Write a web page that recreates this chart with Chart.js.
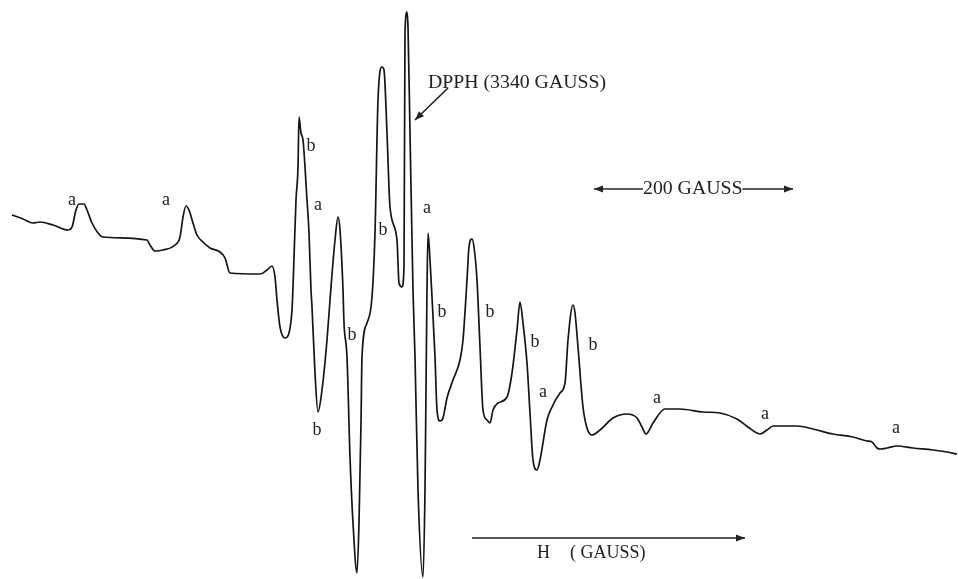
<!DOCTYPE html>
<html>
<head>
<meta charset="utf-8">
<script src="https://cdn.jsdelivr.net/npm/chart.js@4/dist/chart.umd.min.js"></script>
<style>
html,body{margin:0;padding:0;background:#fff;}
#wrap{width:958px;height:579px;position:relative;}
</style>
</head>
<body>
<div id="wrap"><canvas id="c"></canvas></div>
<script>
// Magnetic field H (gauss) and first-derivative EPR signal (arbitrary units)
const field = [2937,2948,2958,2965,2978,2993,2997,3001,3004,3009,3012,3017,3023,3028,3072,3075,3080,3088,3100,3105,3108,3111,3114,3118,3122,3128,3135,3145,3150,3155,3185,3192,3197,3200,3202,3205,3210,3214,3217,3218,3221,3223,3224,3226,3228,3232,3234,3236,3237,3240,3243,3247,3252,3256,3260,3263,3265,3268,3269,3272,3275,3278,3282,3284,3286,3287,3292,3297,3300,3303,3307,3309,3312,3315,3322,3324,3327,3329,3330,3332,3333,3335,3338,3340,3343,3348,3350,3351,3352,3353,3355,3357,3360,3362,3365,3368,3372,3378,3385,3388,3392,3394,3397,3399,3402,3405,3408,3412,3415,3418,3423,3432,3437,3442,3445,3448,3452,3455,3458,3462,3465,3472,3477,3485,3490,3493,3498,3500,3503,3508,3512,3517,3525,3538,3552,3562,3567,3571,3578,3590,3605,3628,3645,3662,3673,3680,3685,3692,3698,3722,3738,3758,3778,3792,3797,3802,3805,3812,3822,3838,3858,3872,3882];
const signal = [85,81,77,78,75,70,73,90,96,96,90,77,67,63,60,55,49,50,55,63,83,94,90,77,65,58,52,48,42,27,26,30,34,23,0,-27,-38,-33,-10,13,100,133,183,167,160,100,67,10,-7,-73,-112,-90,-40,13,60,83,70,10,-23,-57,-157,-223,-273,-223,-123,-57,-23,3,67,200,233,230,167,93,60,17,13,33,267,288,273,167,10,-57,-190,-277,-190,-90,10,67,40,3,-57,-110,-121,-118,-98,-80,-60,-40,20,53,61,53,20,-47,-110,-120,-123,-110,-103,-97,-73,-30,-2,-23,-63,-113,-160,-170,-160,-120,-107,-93,-83,-40,-5,-13,-47,-107,-128,-135,-130,-118,-114,-118,-127,-134,-123,-109,-109,-112,-113,-119,-127,-132,-134,-130,-126,-126,-129,-134,-137,-141,-142,-148,-149,-148,-146,-148,-150,-152,-154];

// Line assignments "a" and "b" (field, signal)
const labelA = [[2997,100],[3091,100],[3243,95],[3352,92],[3468,-92],[3582,-98],[3690,-114],[3821,-128]];
const labelB = [[3236,154],[3308,70],[3277,-35],[3242,-130],[3367,-12],[3415,-12],[3460,-42],[3518,-45]];

// Annotation texts
const dpphText = "DPPH (3340 GAUSS)";
const dpphTextAt = [3353,217];
const dpphArrow = [[3373,212],[3340,180]];
const scaleText = "200 GAUSS";
const scaleTextAt = [3568,111];
const scaleArrows = [[[3568,111],[3519,111]],[[3667,111],[3718,111]]];
const axisText = ["H", "( GAUSS)"];
const axisTextAt = [[3462,-253],[3495,-253]];
const axisArrow = [[3397,-238],[3670,-238]];

const xRange = [2925, 3883];
const yRange = [-279, 300];

const points = field.map((f,i)=>({x:f, y:signal[i]}));

function arrow(ctx, x1, y1, x2, y2, head){
  ctx.beginPath();
  ctx.moveTo(x1,y1); ctx.lineTo(x2,y2); ctx.stroke();
  const a = Math.atan2(y2-y1, x2-x1);
  ctx.beginPath();
  ctx.moveTo(x2,y2);
  ctx.lineTo(x2 - head*Math.cos(a) + head*0.4*Math.sin(a), y2 - head*Math.sin(a) - head*0.4*Math.cos(a));
  ctx.lineTo(x2 - head*Math.cos(a) - head*0.4*Math.sin(a), y2 - head*Math.sin(a) + head*0.4*Math.cos(a));
  ctx.closePath(); ctx.fill();
}

const annot = {
  id:'annot',
  afterDatasetsDraw(chart){
    const ctx = chart.ctx, xs = chart.scales.x, ys = chart.scales.y;
    const px = v=>xs.getPixelForValue(v), py = v=>ys.getPixelForValue(v);
    ctx.save();
    ctx.fillStyle = '#222'; ctx.strokeStyle = '#222';
    ctx.textBaseline = 'middle'; ctx.textAlign = 'center';
    ctx.font = '18px "Liberation Serif", "DejaVu Serif", serif';
    labelA.forEach(p=>ctx.fillText('a', px(p[0]), py(p[1])));
    labelB.forEach(p=>ctx.fillText('b', px(p[0]), py(p[1])));
    ctx.lineWidth = 1.6;
    scaleArrows.forEach(a=>arrow(ctx, px(a[0][0]), py(a[0][1]), px(a[1][0]), py(a[1][1]), 9));
    ctx.textAlign = 'left';
    ctx.font = '19.8px "Liberation Serif", "DejaVu Serif", serif';
    ctx.fillText(dpphText, px(dpphTextAt[0]), py(dpphTextAt[1]));
    const tw = ctx.measureText(scaleText).width;
    const tx = px(scaleTextAt[0]), ty = py(scaleTextAt[1]);
    ctx.fillStyle = '#fff'; ctx.fillRect(tx, ty-8, tw, 16); ctx.fillStyle = '#222';
    ctx.fillText(scaleText, tx, ty);
    ctx.font = '18px "Liberation Serif", "DejaVu Serif", serif';
    axisText.forEach((t,i)=>ctx.fillText(t, px(axisTextAt[i][0]), py(axisTextAt[i][1])));
    arrow(ctx, px(dpphArrow[0][0]), py(dpphArrow[0][1]), px(dpphArrow[1][0]), py(dpphArrow[1][1]), 9);
    arrow(ctx, px(axisArrow[0][0]), py(axisArrow[0][1]), px(axisArrow[1][0]), py(axisArrow[1][1]), 9);
    ctx.restore();
  }
};

new Chart(document.getElementById('c'), {
  type:'line',
  data:{datasets:[{
    data: points,
    borderColor:'#151515',
    borderWidth:1.7,
    pointRadius:0,
    fill:false,
    cubicInterpolationMode:'monotone',
    clip:false
  }]},
  options:{
    responsive:true,
    maintainAspectRatio:false,
    animation:false,
    layout:{padding:0},
    plugins:{legend:{display:false}, tooltip:{enabled:false}, title:{display:false}},
    scales:{
      x:{type:'linear', min:xRange[0], max:xRange[1], display:false},
      y:{type:'linear', min:yRange[0], max:yRange[1], display:false}
    }
  },
  plugins:[annot]
});
</script>
</body>
</html>
